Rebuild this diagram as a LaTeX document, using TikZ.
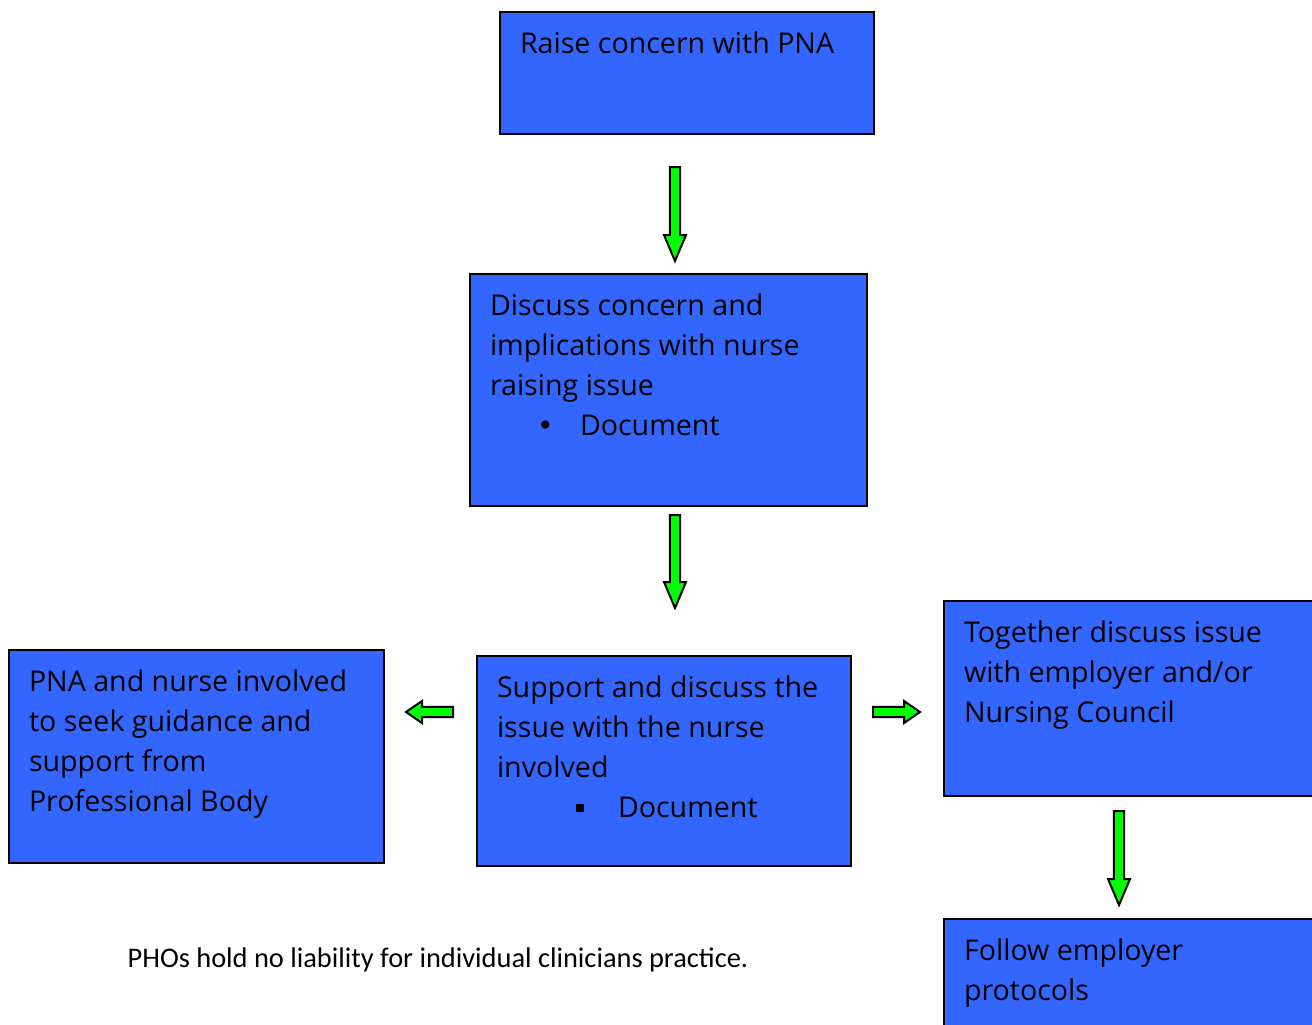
\documentclass[tikz,border=0pt]{standalone}
\usepackage{fontspec}
\usepackage{xcolor}
\usepackage{tikz}
\usetikzlibrary{calc}

\newfontfamily\boxfont{Open Sans}
\newfontfamily\notefont{Carlito}
\newfontfamily\symfont{DejaVu Sans}

\definecolor{boxblue}{RGB}{51,102,255}
\definecolor{arrowgreen}{RGB}{0,255,0}

\tikzset{
  flowbox/.style={draw=black, line width=1pt, fill=boxblue, anchor=north west,
    inner xsep=10pt, inner ysep=0pt, font=\boxfont\fontsize{14.3}{20}\selectfont},
  arrowline/.style={draw=black, fill=arrowgreen, line width=1pt, line join=miter}
}

% box body: width, height, text (top aligned, first baseline 21pt down)
\newcommand{\boxbody}[3]{\parbox[c][#2][t]{#1}{\raggedright\rule{0pt}{20.5pt}#3}}
% fat green arrow between two named coordinates, optional head length
\newcommand{\blockarrow}[3][13pt]{%
  \filldraw[arrowline] let \p1=(#2), \p2=(#3),
    \n1={atan2(\y2-\y1,\x2-\x1)}, \n2={veclen(\x2-\x1,\y2-\y1)} in
    {[shift={(\p1)}, rotate=\n1]
    (0pt,-2.6pt) -- ({\n2*1pt-#1},-2.6pt) -- ({\n2*1pt-#1},-5.5pt) -- ({\n2*1pt},0pt)
    -- ({\n2*1pt-#1},5.5pt) -- ({\n2*1pt-#1},2.6pt) -- (0pt,2.6pt) -- cycle};}

\begin{document}
\begin{tikzpicture}[x=0.5pt,y=-0.5pt]
  \useasboundingbox (0,0) rectangle (1312,1024);
  \fill[white] (0,0) rectangle (1312,1024);

  \begin{scope}
    \clip (0,0) rectangle (1312,1024);

    \node[flowbox, minimum width=187pt, minimum height=61pt] (raise) at (499,11)
      {\boxbody{167pt}{61pt}{Raise concern with PNA}};

    \node[flowbox, minimum width=198.5pt, minimum height=116pt] (discuss) at (469,273)
      {\boxbody{178.5pt}{116pt}{Discuss concern and\\implications with nurse\\raising issue\\
        \hspace*{23.5pt}\makebox[21.5pt][l]{\symfont\fontsize{14}{20}\selectfont •}Document}};

    \node[flowbox, minimum width=187pt, minimum height=105pt] (support) at (476,655)
      {\boxbody{167pt}{105pt}{Support and discuss the\\issue with the nurse\\involved\\
        \hspace*{39.5pt}\makebox[21pt][l]{\raisebox{2.5pt}{\rule{4pt}{4pt}}}Document}};

    \node[flowbox, minimum width=187.5pt, minimum height=106.5pt] (guidance) at (8,649)
      {\boxbody{167.5pt}{106.5pt}{PNA and nurse involved\\to seek guidance and\\support from\\Professional Body}};

    \node[flowbox, minimum width=200pt, minimum height=97.5pt] (together) at (943,600)
      {\boxbody{180pt}{97.5pt}{Together discuss issue\\with employer and/or\\Nursing Council}};

    \node[flowbox, minimum width=200pt, minimum height=75pt] (follow) at (943,918)
      {\boxbody{180pt}{75pt}{Follow employer\\protocols}};
  \end{scope}

  \node[font=\notefont\fontsize{14.2}{17}\selectfont] (note) at (438,960)
    {PHOs hold no liability for individual clinicians practice.};

  % arrow ends
  \coordinate (a1s) at (675,167);  \coordinate (a1e) at (675,261);
  \coordinate (a2s) at (675,515);  \coordinate (a2e) at (675,608);
  \coordinate (a3s) at (453,712);  \coordinate (a3e) at (406,712);
  \coordinate (a4s) at (873,712);  \coordinate (a4e) at (920,712);
  \coordinate (a5s) at (1119,811); \coordinate (a5e) at (1119,905);

  \blockarrow{a1s}{a1e}
  \blockarrow{a2s}{a2e}
  \blockarrow[8pt]{a3s}{a3e}
  \blockarrow[8pt]{a4s}{a4e}
  \blockarrow{a5s}{a5e}
\end{tikzpicture}
\end{document}
